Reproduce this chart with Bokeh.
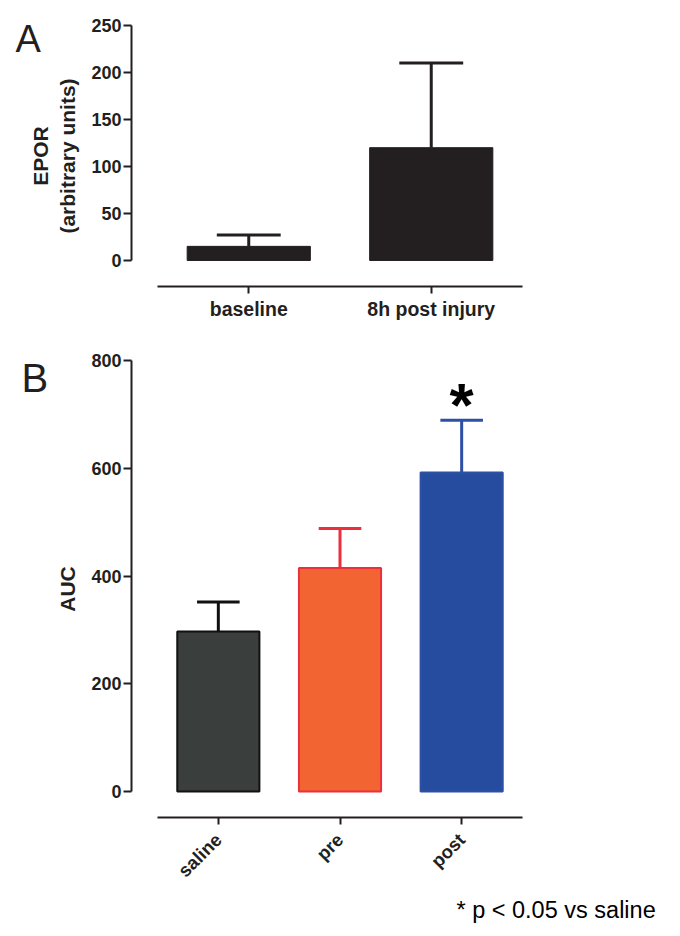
from bokeh.plotting import figure
from bokeh.layouts import column
from bokeh.models import Range1d, FixedTicker, Label, ColumnDataSource
from bokeh.embed import file_html
from bokeh.resources import INLINE
from bokeh.core.properties import value

FONT = "Liberation Sans"
INK = "#231f20"

# ---------------- data ----------------
# Panel A
a_categories = ["baseline", "8h post injury"]
a_means = [15, 120]
a_err = [12, 90]
a_yticks = [0, 50, 100, 150, 200, 250]

# Panel B
b_categories = ["saline", "pre", "post"]
b_means = [297, 415, 592]
b_err = [55, 73, 97]
b_fill = ["#3a3e3d", "#f26431", "#264ca0"]
b_line = ["#111111", "#ec2f3c", "#2d50a5"]
b_sig = ["", "", "*"]
b_yticks = [0, 200, 400, 600, 800]

footnote = "* p < 0.05 vs saline"

BAR_W = 0.675
CAP_HALF = 0.175


def style(p, yticks, cats, ylabel):
    p.xgrid.visible = False
    p.ygrid.visible = False
    p.outline_line_color = None
    pos = [i + 0.5 for i in range(len(cats))]
    p.xaxis.ticker = FixedTicker(ticks=pos)
    p.xaxis.major_label_overrides = {x: c for x, c in zip(pos, cats)}
    p.xaxis.bounds = (0, len(cats))
    p.yaxis.ticker = FixedTicker(ticks=yticks)
    p.yaxis.bounds = (yticks[0], yticks[-1])
    for ax in (p.xaxis[0], p.yaxis[0]):
        ax.axis_line_width = 2
        ax.axis_line_color = INK
        ax.major_tick_line_width = 2
        ax.major_tick_line_color = INK
        ax.minor_tick_line_color = None
        ax.major_tick_in = 0
        ax.major_label_text_font = FONT
        ax.major_label_text_font_style = "bold"
        ax.major_label_text_color = INK
        ax.axis_label_text_font = FONT
        ax.axis_label_text_font_style = "bold"
        ax.axis_label_text_color = INK
    p.yaxis.major_tick_out = 8
    p.xaxis.major_tick_out = 7
    p.yaxis.major_label_standoff = 2
    p.yaxis.major_label_text_font_size = "18px"
    p.xaxis.major_label_text_font_size = "19.5px"
    p.yaxis.axis_label = ylabel
    p.yaxis.axis_label_text_font_size = "21px"
    p.yaxis.axis_label_standoff = 9


# ---------------- Panel A ----------------
xa_range = Range1d(-0.1425, 2.1425)
ya_range = Range1d(-27.7, 250)
pa = figure(frame_width=417, frame_height=261, output_backend="svg",
            toolbar_location=None, x_range=xa_range, y_range=ya_range,
            min_border_left=131, min_border_right=124,
            min_border_top=25, min_border_bottom=44)
xa = [i + 0.5 for i in range(len(a_categories))]
topa = [m + e for m, e in zip(a_means, a_err)]
src_a = ColumnDataSource(dict(x=xa, top=a_means, etop=topa,
                              xl=[x - CAP_HALF for x in xa],
                              xr=[x + CAP_HALF for x in xa]))
pa.segment(x0="x", y0="top", x1="x", y1="etop", source=src_a,
           line_color=INK, line_width=3)
pa.segment(x0="xl", y0="etop", x1="xr", y1="etop", source=src_a,
           line_color=INK, line_width=3)
pa.vbar(x="x", top="top", bottom=0, width=BAR_W, source=src_a,
        fill_color=INK, line_color=INK, line_width=1)
style(pa, a_yticks, a_categories, "EPOR\n(arbitrary units)")
pa.xaxis.major_label_standoff = 4
pa.add_layout(Label(x=xa_range.start, y=ya_range.end, x_offset=-116, y_offset=-13,
                    text="A", text_font=FONT, text_font_size="38px",
                    text_color=INK, text_baseline="alphabetic"), "left")

# ---------------- Panel B ----------------
xb_range = Range1d(-0.2137, 3.2137)
yb_range = Range1d(-48.2, 800)
pb = figure(frame_width=417, frame_height=457, output_backend="svg",
            toolbar_location=None, x_range=xb_range, y_range=yb_range,
            min_border_left=128, min_border_right=127,
            min_border_top=30, min_border_bottom=112)
xb = [i + 0.5 for i in range(len(b_categories))]
topb = [m + e for m, e in zip(b_means, b_err)]
src_b = ColumnDataSource(dict(x=xb, top=b_means, etop=topb,
                              xl=[x - CAP_HALF for x in xb],
                              xr=[x + CAP_HALF for x in xb],
                              fill=b_fill, line=b_line, sig=b_sig))
pb.segment(x0="x", y0="top", x1="x", y1="etop", source=src_b,
           line_color="line", line_width=3)
pb.segment(x0="xl", y0="etop", x1="xr", y1="etop", source=src_b,
           line_color="line", line_width=3)
pb.vbar(x="x", top="top", bottom=0, width=BAR_W, source=src_b,
        fill_color="fill", line_color="line", line_width=2)
pb.text(x="x", y="etop", text="sig", source=src_b,
        text_font=value(FONT), text_font_style="bold",
        text_font_size="62px", text_color="#000000",
        text_align="center", text_baseline="middle", y_offset=-16)
style(pb, b_yticks, b_categories, "AUC")
pb.xaxis.major_label_orientation = 0.785398
pb.xaxis.major_label_text_font_size = "18.5px"
pb.xaxis.major_label_standoff = 12
pb.add_layout(Label(x=xb_range.start, y=yb_range.end, x_offset=-110, y_offset=-17,
                    text="B", text_font=FONT, text_font_size="40px",
                    text_color=INK, text_baseline="alphabetic"), "left")
pb.add_layout(Label(x=xb_range.start, y=yb_range.start, x_offset=325, y_offset=-92,
                    text=footnote, text_font=FONT, text_font_size="23.5px",
                    text_color="#000000", text_baseline="alphabetic"), "below")

layout = column(pa, pb, spacing=0)
open("out.html", "w").write(file_html(layout, INLINE))
